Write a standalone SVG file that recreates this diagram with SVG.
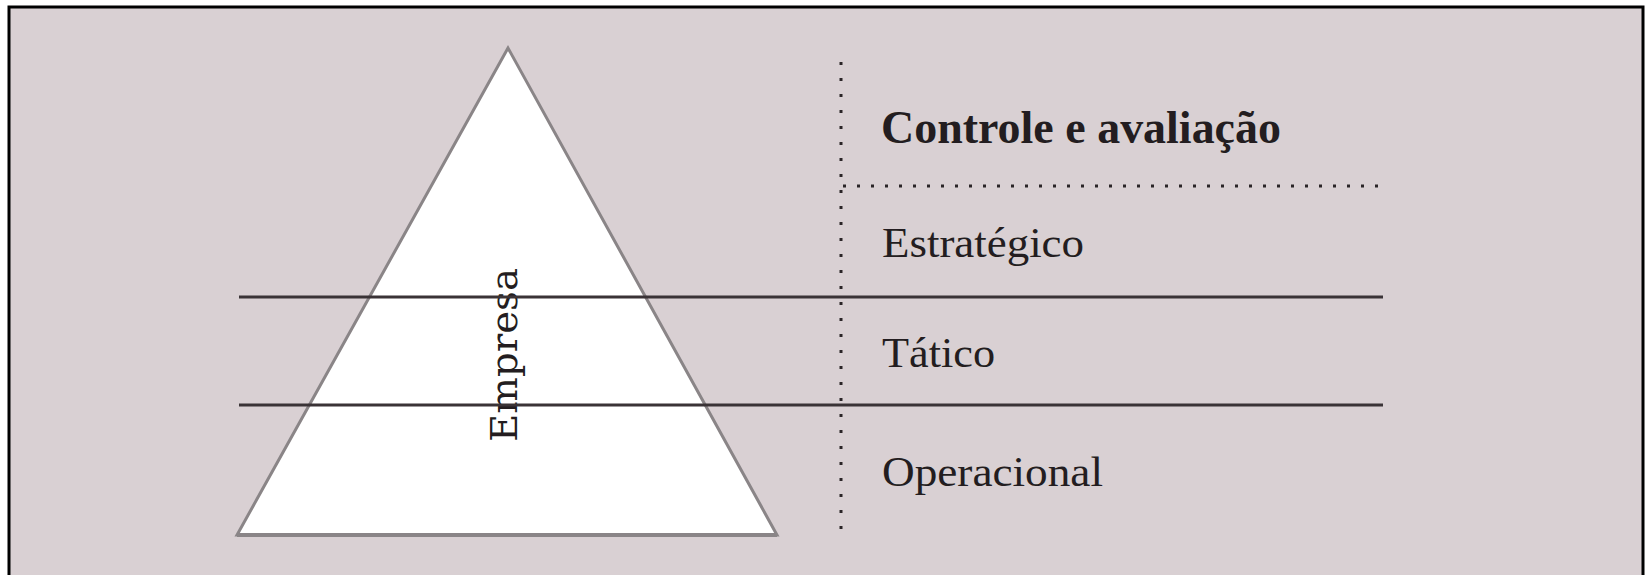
<svg xmlns="http://www.w3.org/2000/svg" width="1649" height="575" viewBox="0 0 1649 575">
  <style>
    .lbl { font-family: "Liberation Serif", "Times New Roman", serif; fill: #231d20; }
    .bold { font-weight: bold; }
    .solid { stroke: #3a3336; stroke-width: 3; fill: none; }
    .dotted { stroke: #2a2427; stroke-width: 3; fill: none; stroke-dasharray: 3 13; }
  </style>
  <rect x="0" y="0" width="1649" height="575" fill="#ffffff"/>
  <rect id="frame" x="9" y="7" width="1634" height="600" fill="#d9d0d3" stroke="#000000" stroke-width="3"/>

  <g id="pyramid">
    <polygon points="508,48 237,535 777,535" fill="#ffffff" stroke="#8a8587" stroke-width="3" stroke-linejoin="miter"/>
    <line x1="237" y1="535" x2="777" y2="535" stroke="#8a8587" stroke-width="4"/>
    <text class="lbl" transform="translate(517,355) rotate(-90)" text-anchor="middle" style="font-family:'DejaVu Serif',serif" font-size="38" textLength="174" lengthAdjust="spacingAndGlyphs">Empresa</text>
  </g>

  <g id="connectors">
    <line class="solid" x1="239" y1="297" x2="1383" y2="297"/>
    <line class="solid" x1="239" y1="405" x2="1383" y2="405"/>
    <line class="dotted" x1="841" y1="62" x2="841" y2="540"/>
    <line class="dotted" x1="843" y1="186" x2="1383" y2="186" style="stroke-dasharray:3 11"/>
  </g>

  <g id="controle">
    <text class="lbl bold" x="881" y="143" font-size="47" textLength="400" lengthAdjust="spacingAndGlyphs">Controle e avaliação</text>
  </g>
  <g id="estrategico">
    <text class="lbl" x="882" y="257" font-size="42" textLength="202" lengthAdjust="spacingAndGlyphs">Estratégico</text>
  </g>
  <g id="tatico">
    <text class="lbl" x="882" y="367" font-size="42" textLength="113" lengthAdjust="spacingAndGlyphs">Tático</text>
  </g>
  <g id="operacional">
    <text class="lbl" x="882" y="486" font-size="42" textLength="221" lengthAdjust="spacingAndGlyphs">Operacional</text>
  </g>
</svg>
